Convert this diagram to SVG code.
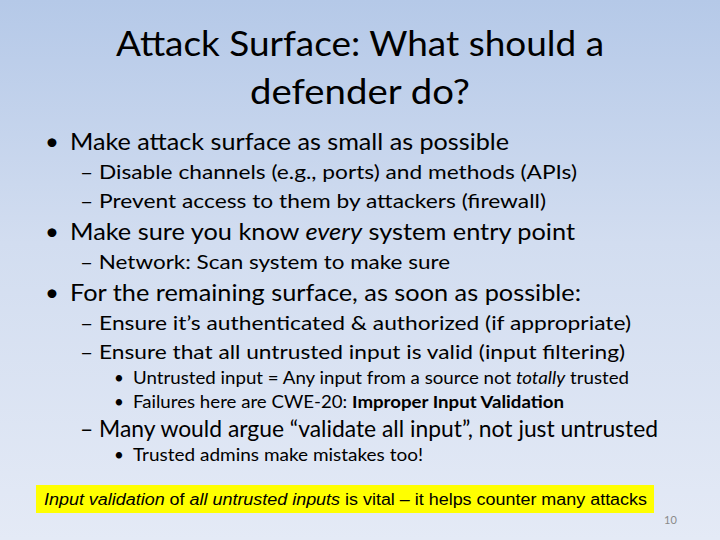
<svg xmlns="http://www.w3.org/2000/svg" width="720" height="540" viewBox="0 0 720 540">
<defs>
<linearGradient id="bg" x1="0" y1="0" x2="0" y2="1">
<stop offset="0" stop-color="#b5c9e8"/><stop offset="0.45" stop-color="#d2ddf0"/><stop offset="1" stop-color="#e4eaf6"/>
</linearGradient>
<style>
text{font-family:"Lato","Liberation Sans",sans-serif;fill:#000}
.t{font-size:34px}.l1{font-size:24px}.l2{font-size:20px}.l3{font-size:17px}
.a{font-family:"Liberation Sans",Arial,sans-serif;font-size:16px}
</style>
</defs>
<rect width="720" height="540" fill="url(#bg)"/>
<g id="title">
<text class="t" x="360" y="56" text-anchor="middle" textLength="488" lengthAdjust="spacingAndGlyphs">Attack Surface: What should a</text>
<text class="t" x="360" y="104" text-anchor="middle" textLength="220" lengthAdjust="spacingAndGlyphs">defender do?</text>
</g>
<g id="body">
<text class="l1" x="45" y="150">•</text>
<text class="l1" x="70" y="150" textLength="439" lengthAdjust="spacingAndGlyphs">Make attack surface as small as possible</text>
<text class="l2" x="80" y="179" textLength="497" lengthAdjust="spacingAndGlyphs">– Disable channels (e.g., ports) and methods (APIs)</text>
<text class="l2" x="80" y="208" textLength="466" lengthAdjust="spacingAndGlyphs">– Prevent access to them by attackers (firewall)</text>
<text class="l1" x="45" y="240">•</text>
<text class="l1" x="70" y="240" textLength="505" lengthAdjust="spacingAndGlyphs">Make sure you know <tspan font-style="italic">every</tspan> system entry point</text>
<text class="l2" x="80" y="269" textLength="370" lengthAdjust="spacingAndGlyphs">– Network: Scan system to make sure</text>
<text class="l1" x="45" y="301">•</text>
<text class="l1" x="70" y="301" textLength="511" lengthAdjust="spacingAndGlyphs">For the remaining surface, as soon as possible:</text>
<text class="l2" x="80" y="330" textLength="551" lengthAdjust="spacingAndGlyphs">– Ensure it’s authenticated &amp; authorized (if appropriate)</text>
<text class="l2" x="80" y="359" textLength="545" lengthAdjust="spacingAndGlyphs">– Ensure that all untrusted input is valid (input filtering)</text>
<text class="l3" x="114" y="384">•</text>
<text class="l3" x="133" y="384" textLength="496" lengthAdjust="spacingAndGlyphs">Untrusted input = Any input from a source not <tspan font-style="italic">totally</tspan> trusted</text>
<text class="l3" x="114" y="408">•</text>
<text class="l3" x="133" y="408" textLength="431" lengthAdjust="spacingAndGlyphs">Failures here are CWE-20: <tspan font-weight="bold">Improper Input Validation</tspan></text>
<text class="l1" x="80" y="437" font-size="22" textLength="578" lengthAdjust="spacingAndGlyphs">– Many would argue “validate all input”, not just untrusted</text>
<text class="l3" x="114" y="461">•</text>
<text class="l3" x="133" y="461" textLength="290" lengthAdjust="spacingAndGlyphs">Trusted admins make mistakes too!</text>
</g>
<g id="callout">
<rect x="36" y="485" width="618" height="28" fill="#ffff00"/>
<text class="a" x="44" y="505" textLength="603" lengthAdjust="spacingAndGlyphs"><tspan font-style="italic">Input validation</tspan> of <tspan font-style="italic">all untrusted inputs</tspan> is vital – it helps counter many attacks</text>
</g>
<text x="664" y="524" font-size="11" fill="#8a8a8a" style="fill:#8a8a8a">10</text>
</svg>
